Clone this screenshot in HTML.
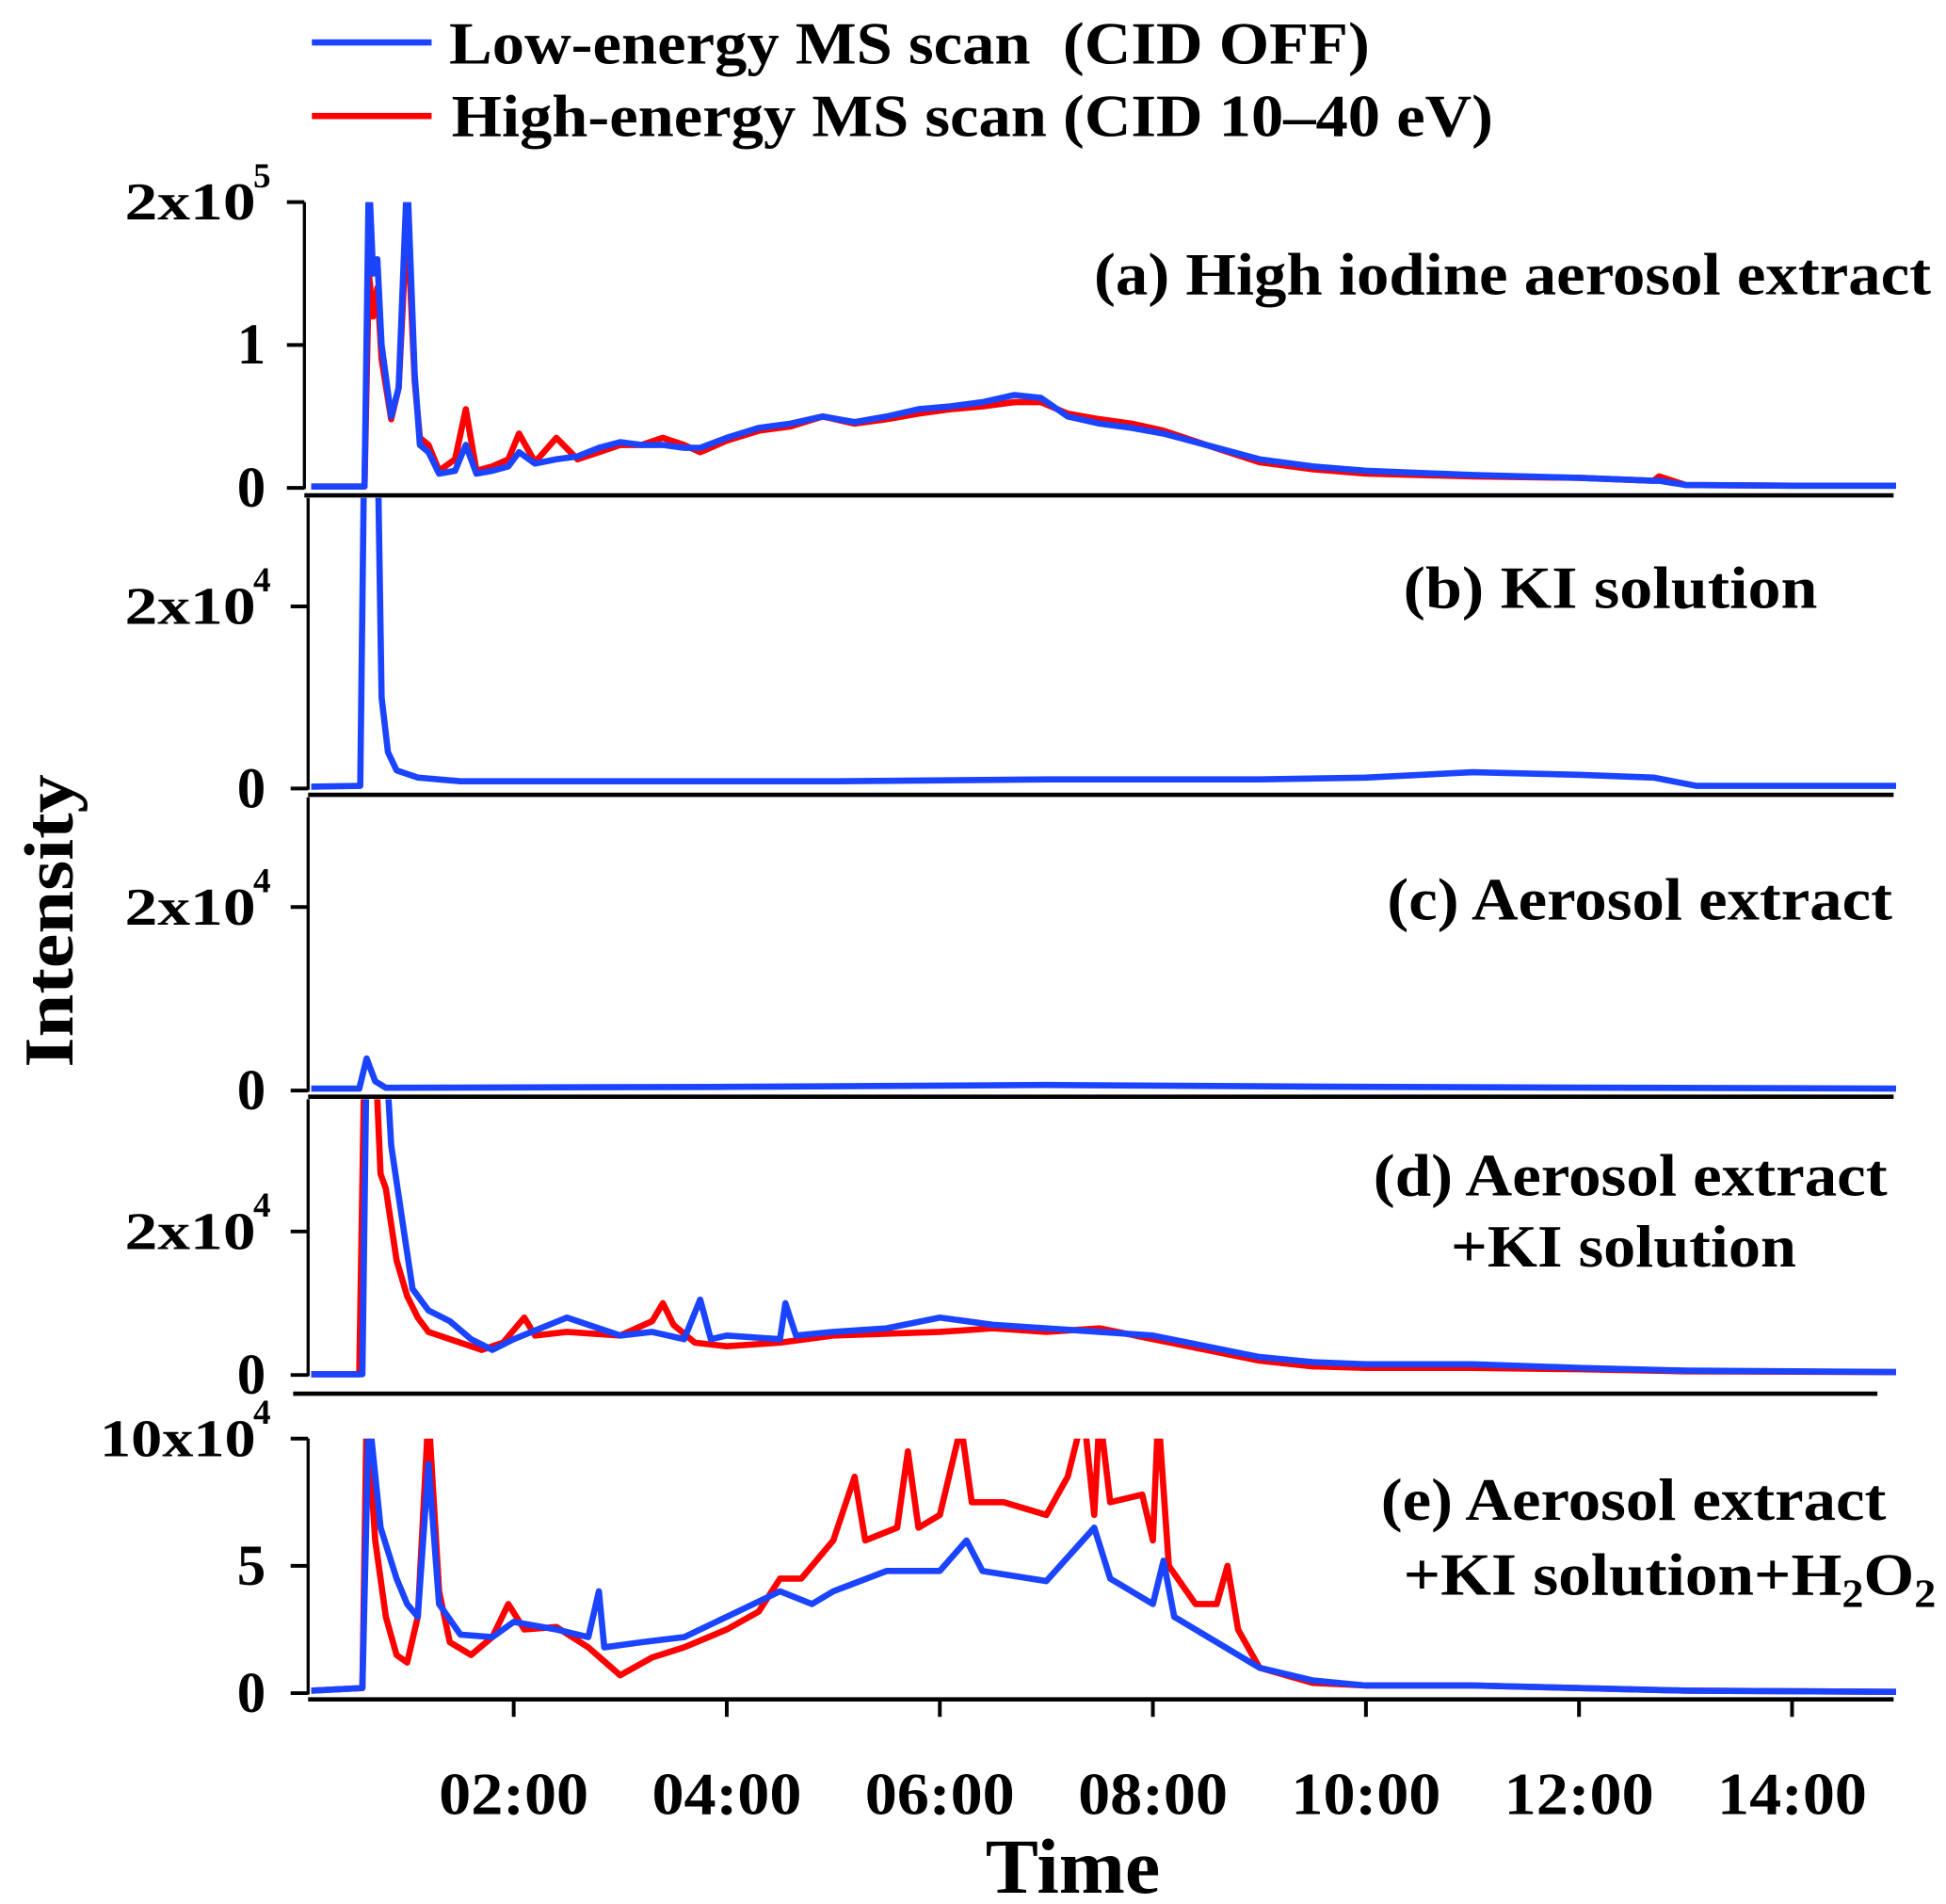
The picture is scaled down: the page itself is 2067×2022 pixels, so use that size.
<!DOCTYPE html>
<html><head><meta charset="utf-8"><style>
html,body{margin:0;padding:0;background:#fff;}
svg{display:block;}
text{font-family:"Liberation Serif",serif;font-weight:bold;fill:#000;}
</style></head><body>
<svg id="chart" width="2067" height="2022" viewBox="0 0 1560 1526" preserveAspectRatio="none" xmlns="http://www.w3.org/2000/svg">
<g>
<line x1="250" y1="34" x2="346" y2="34" stroke="#1a44ff" stroke-width="5"/>
<text x="360" y="51" font-size="48" textLength="738" lengthAdjust="spacingAndGlyphs" xml:space="preserve">Low-energy MS scan  (CID OFF)</text>
<line x1="250" y1="93" x2="346" y2="93" stroke="#ff0000" stroke-width="5"/>
<text x="362" y="109" font-size="48" textLength="835" lengthAdjust="spacingAndGlyphs">High-energy MS scan (CID 10–40 eV)</text>
</g>
<text transform="translate(58,738) rotate(-90)" text-anchor="middle" font-size="56" textLength="235" lengthAdjust="spacingAndGlyphs">Intensity</text>
<text x="860" y="1517" text-anchor="middle" font-size="62" textLength="140" lengthAdjust="spacingAndGlyphs">Time</text>
<g id="plots"></g>
</svg>
<script>
// x ticks (minutes)
const xTickValues=[2,4,6,8,10,12,14];
const xTickLabels=["02:00","04:00","06:00","08:00","10:00","12:00","14:00"];
// panel (a) units 1e5
const aTime=[0.1,0.6,0.64,0.68,0.72,0.76,0.85,0.92,1.0,1.07,1.12,1.2,1.3,1.45,1.55,1.65,1.8,1.95,2.05,2.2,2.4,2.6,2.8,3.0,3.2,3.4,3.6,3.75,4.0,4.3,4.6,4.9,5.2,5.5,5.8,6.1,6.4,6.7,6.95,7.2,7.5,7.8,8.1,8.5,9.0,9.5,10,11,12,12.7,12.75,13,14,15];
const aBlue=[0.01,0.01,2.2,1.5,1.6,1.0,0.5,0.7,2.2,0.8,0.3,0.25,0.1,0.12,0.3,0.1,0.12,0.15,0.25,0.17,0.2,0.22,0.28,0.32,0.3,0.3,0.28,0.28,0.35,0.42,0.45,0.5,0.46,0.5,0.55,0.57,0.6,0.65,0.63,0.5,0.45,0.42,0.38,0.3,0.2,0.15,0.12,0.09,0.07,0.05,0.05,0.02,0.015,0.015];
const aRed=[0.01,0.01,1.5,1.2,1.4,0.9,0.48,0.7,1.9,0.75,0.35,0.3,0.12,0.2,0.55,0.12,0.15,0.2,0.38,0.18,0.35,0.2,0.25,0.3,0.3,0.35,0.3,0.25,0.33,0.4,0.43,0.5,0.45,0.48,0.52,0.55,0.57,0.6,0.6,0.52,0.48,0.45,0.4,0.3,0.18,0.13,0.1,0.08,0.07,0.05,0.08,0.02,0.015,0.015];
// panel (b) units 1e4
const bTime=[0.1,0.56,0.6,0.72,0.76,0.82,0.9,1.1,1.5,3,5,7,9,10,11,12,12.7,13.1,15];
const bBlue=[0.02,0.03,4,4,1.0,0.4,0.2,0.12,0.08,0.08,0.08,0.1,0.1,0.12,0.18,0.15,0.12,0.03,0.03];
// panel (c) units 1e4
const cTime=[0.1,0.55,0.62,0.7,0.8,4,7,10,15];
const cBlue=[0.02,0.02,0.35,0.1,0.03,0.04,0.06,0.04,0.02];
// panel (d) units 1e4
const dRedTime=[0.1,0.55,0.6,0.7,0.75,0.8,0.9,1.0,1.1,1.2,1.4,1.7,1.9,2.1,2.2,2.5,3.0,3.3,3.4,3.5,3.7,4.0,4.5,5,6,6.5,7.0,7.5,8.0,8.5,9.0,9.5,10,11,12,13,15];
const dRed=[0.01,0.01,4.5,4.5,2.8,2.6,1.6,1.1,0.8,0.6,0.5,0.35,0.45,0.8,0.55,0.6,0.55,0.75,1.0,0.7,0.45,0.4,0.45,0.55,0.6,0.65,0.6,0.65,0.5,0.35,0.2,0.12,0.1,0.1,0.08,0.05,0.04];
const dBlueTime=[0.1,0.58,0.62,0.8,0.85,0.95,1.05,1.2,1.4,1.6,1.8,2.0,2.5,3.0,3.3,3.6,3.75,3.85,4.0,4.5,4.55,4.65,5.0,5.5,6.0,6.5,7.0,7.5,8.0,8.5,9.0,9.5,10,11,12,13,15];
const dBlue=[0.01,0.01,4.5,4.5,3.2,2.2,1.2,0.9,0.75,0.5,0.35,0.5,0.8,0.55,0.6,0.5,1.05,0.5,0.55,0.5,1.0,0.55,0.6,0.65,0.8,0.7,0.65,0.6,0.55,0.4,0.25,0.18,0.15,0.15,0.1,0.06,0.04];
// panel (e) units 1e4
const eRedTime=[0.1,0.58,0.62,0.7,0.8,0.9,1.0,1.1,1.2,1.3,1.4,1.6,1.8,1.95,2.1,2.4,2.7,3.0,3.3,3.6,4.0,4.3,4.5,4.7,5.0,5.2,5.3,5.6,5.7,5.8,6.0,6.2,6.3,6.6,7.0,7.2,7.35,7.45,7.5,7.6,7.9,8.0,8.05,8.15,8.4,8.6,8.7,8.8,9.0,9.5,10,11,12,13,15];
const eRed=[0.1,0.2,11,6,3,1.5,1.2,3,11,4,2,1.5,2.2,3.5,2.5,2.6,1.8,0.7,1.4,1.8,2.5,3.2,4.5,4.5,6,8.5,6,6.5,9.5,6.5,7,10.5,7.5,7.5,7,8.5,11,7,11,7.5,7.8,6,11,5,3.5,3.5,5,2.5,1.0,0.4,0.3,0.3,0.2,0.1,0.05];
const eBlueTime=[0.1,0.58,0.64,0.75,0.9,1.0,1.1,1.2,1.3,1.5,1.8,2.0,2.4,2.7,2.8,2.85,3.2,3.6,4.0,4.5,4.8,5.0,5.5,6.0,6.25,6.4,7.0,7.45,7.6,8.0,8.1,8.2,8.6,9.0,9.5,10,11,12,13,15];
const eBlue=[0.1,0.2,11,6.5,4.5,3.5,3,9,3.5,2.3,2.2,2.8,2.5,2.2,4,1.8,2.0,2.2,3.0,4.0,3.5,4,4.8,4.8,6,4.8,4.4,6.5,4.5,3.5,5.2,3,2,1.0,0.5,0.3,0.3,0.2,0.1,0.05];

const NS="http://www.w3.org/2000/svg";
const root=document.getElementById('plots');
const X=t=>241+t*85.4;
const BLUE="#1a44ff",RED="#ff0000";
function mk(tag,attrs,parent){const e=document.createElementNS(NS,tag);for(const k in attrs)e.setAttribute(k,attrs[k]);(parent||root).appendChild(e);return e;}

const panels=[
 {id:'a',axisX:244,top:162,zero:391,max:2,ticks:[[0,"0"],[1,"1"],[2,"2x10","5"]],sep:[244,397,1518],
  series:[[aTime,aRed,RED,'a-red'],[aTime,aBlue,BLUE,'a-blue']]},
 {id:'b',axisX:247,top:399,zero:632,max:2,tickTopY:486,ticks:[[0,"0"],[2,"2x10","4"]],sep:[247,637,1518],
  series:[[bTime,bBlue,BLUE,'b-blue']]},
 {id:'c',axisX:247,top:639,zero:874,max:2,tickTopY:727,ticks:[[0,"0"],[2,"2x10","4"]],sep:[247,879,1518],
  series:[[cTime,cBlue,BLUE,'c-blue']]},
 {id:'d',axisX:247,top:881,zero:1102,max:2,tickTopY:987,ticks:[[0,"0"],[2,"2x10","4"]],sep:[235,1117,1505],
  series:[[dRedTime,dRed,RED,'d-red'],[dBlueTime,dBlue,BLUE,'d-blue']]},
 {id:'e',axisX:247,top:1153,zero:1357,max:10,ticks:[[0,"0"],[5,"5"],[10,"10x10","4"]],sep:[247,1362,1518],
  series:[[eRedTime,eRed,RED,'e-red'],[eBlueTime,eBlue,BLUE,'e-blue']]}
];
panels.forEach(p=>{
 const topV=p.tickTopY||p.top;
 const Y=v=>p.zero-(v/p.max)*(p.zero-topV);
 const g=mk('g',{});
 
 
 const cp=mk('clipPath',{id:'clip-'+p.id},g);
 mk('rect',{x:p.axisX,y:p.top,width:1520-p.axisX,height:p.zero-p.top+6},cp);
 const ax=mk('line',{x1:p.axisX,y1:p.top,x2:p.axisX,y2:p.zero+1,stroke:'#000','stroke-width':2.5},g);
 
 
 p.ticks.forEach(tk=>{
  const y=Y(tk[0]);
  mk('line',{x1:p.axisX-14,y1:y,x2:p.axisX,y2:y,stroke:'#000','stroke-width':3},g);
  let t;
  if(tk[2]){
   const w=tk[1].length===4?105:125;
   t=mk('text',{x:205-w,y:y+14,'font-size':42,textLength:w,lengthAdjust:'spacingAndGlyphs'},g);
  } else {
   t=mk('text',{x:213,y:y+15,'text-anchor':'end','font-size':46},g);
  }
  t.textContent=tk[1];
  
  
  if(tk[2]){const s=mk('text',{x:203,y:y-12,'font-size':28},g);s.textContent=tk[2];
   
   }
 });
 p.series.forEach(s=>{
  const d=s[0].map((t,i)=>(i?'L':'M')+X(t).toFixed(1)+','+Y(s[1][i]).toFixed(1)).join('');
  const path=mk('path',{d:d,fill:'none',stroke:s[2],'stroke-width':5,'stroke-linejoin':'round','clip-path':'url(#clip-'+p.id+')'},g);
  
  
 });
 const sep=mk('line',{x1:p.sep[0],y1:p.sep[1],x2:p.sep[2],y2:p.sep[1],stroke:'#000','stroke-width':3.5},g);
 
 
});
// x ticks on bottom axis
xTickValues.forEach((v,i)=>{
 mk('line',{x1:X(v),y1:1362,x2:X(v),y2:1376,stroke:'#000','stroke-width':3});
 const t=mk('text',{x:X(v)-60,y:1454,'font-size':48,textLength:120,lengthAdjust:'spacingAndGlyphs'});
 t.textContent=xTickLabels[i];
 
 
});
// panel labels: text, left x, baseline, width
const labels=[["(a) High iodine aerosol extract",877,236,671],["(b)  KI solution",1125,487,332],["(c) Aerosol extract",1112,737,405],["(d) Aerosol extract",1101,958,412],["+KI solution",1163,1015,277],["(e) Aerosol extract",1107,1218,405]];
labels.forEach(l=>{
 const t=mk('text',{x:l[1],y:l[2],'font-size':48,textLength:l[3],lengthAdjust:'spacingAndGlyphs','xml:space':'preserve'});
 t.textContent=l[0];
 
 
});
const el=mk('text',{x:1125,y:1278,'font-size':48,textLength:427,lengthAdjust:'spacingAndGlyphs'});
el.innerHTML='+KI solution+H<tspan font-size="32" dy="10">2</tspan><tspan dy="-10">O</tspan><tspan font-size="32" dy="10">2</tspan>';


</script>
</body></html>
